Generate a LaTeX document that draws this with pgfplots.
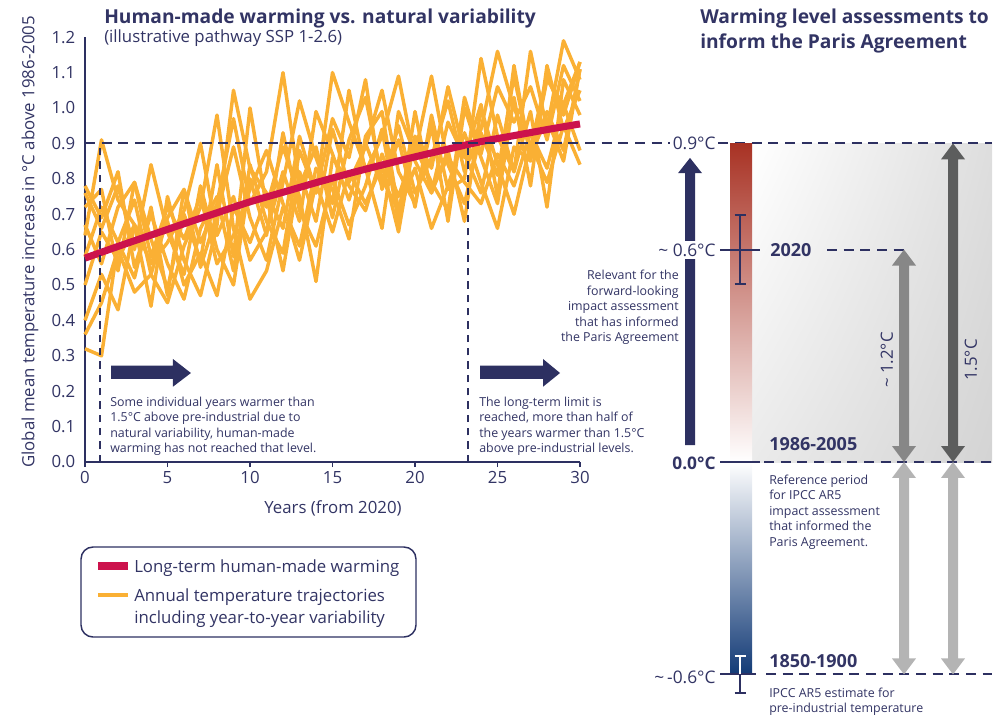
\documentclass[border=0pt]{standalone}
\usepackage{pgfplots}
\usepackage{pgfplotstable}
\pgfplotsset{compat=1.18}
\usetikzlibrary{shadings}
\usepackage{fontspec}
\setmainfont{Open Sans}
\definecolor{navy}{RGB}{45,48,97}
\definecolor{txt}{RGB}{50,52,100}
\definecolor{orng}{RGB}{250,176,52}
\definecolor{crim}{RGB}{204,18,76}
\definecolor{barred}{RGB}{168,50,36}
\definecolor{barblue}{RGB}{18,58,118}
\definecolor{gmid}{RGB}{135,135,135}
\definecolor{gdark}{RGB}{92,93,93}
\definecolor{glight}{RGB}{180,180,180}
\newcommand{\fs}[1]{\fontsize{#1}{#1}\selectfont}

\pgfplotstableread{
t s1 s2 s3 s4 s5 s6 s7 s8 s9 s10
0 0.64 0.32 0.78 0.36 0.72 0.50 0.76 0.40 0.58 0.67
1 0.91 0.30 0.69 0.45 0.77 0.65 0.66 0.53 0.72 0.56
2 0.74 0.62 0.82 0.60 0.54 0.57 0.78 0.43 0.62 0.72
3 0.67 0.52 0.55 0.48 0.79 0.67 0.60 0.67 0.74 0.79
4 0.56 0.72 0.70 0.53 0.63 0.44 0.84 0.56 0.53 0.58
5 0.62 0.47 0.56 0.45 0.49 0.75 0.65 0.68 0.69 0.72
6 0.71 0.77 0.46 0.61 0.70 0.57 0.53 0.50 0.77 0.63
7 0.90 0.62 0.66 0.72 0.57 0.47 0.78 0.59 0.55 0.75
8 0.64 0.73 0.75 0.98 0.84 0.67 0.60 0.47 0.70 0.56
9 0.75 0.97 0.54 0.66 0.58 1.05 0.50 0.72 0.89 0.64
10 0.57 0.73 0.84 0.46 1.00 0.83 0.80 0.62 0.69 0.77
11 0.65 0.82 0.68 0.54 0.72 0.76 0.64 0.75 0.57 0.88
12 0.82 1.10 0.59 0.72 0.89 0.66 0.93 0.54 0.79 0.73
13 0.68 0.78 0.88 0.61 0.75 0.92 0.71 0.82 1.02 0.57
14 0.99 0.89 0.76 0.83 0.51 0.76 0.61 0.68 0.86 0.79
15 0.87 0.69 1.10 0.77 0.86 0.97 0.80 0.94 0.73 0.65
16 0.74 0.91 0.96 0.63 0.79 0.86 0.67 0.78 1.05 0.82
17 0.90 1.03 0.83 0.92 0.89 1.08 0.78 0.71 0.82 0.73
18 0.78 0.80 0.66 0.99 1.05 0.77 0.94 0.87 0.92 0.84
19 0.95 0.71 0.99 0.71 0.82 0.91 0.68 0.75 1.09 0.65
20 0.76 0.92 0.87 0.83 0.73 0.72 0.99 0.89 0.85 0.92
21 0.86 0.83 1.09 0.66 0.95 0.98 0.76 0.79 0.76 0.77
22 1.02 1.06 0.84 0.78 0.68 0.77 0.88 0.71 0.96 0.86
23 0.82 0.87 0.73 0.93 1.00 0.80 0.68 1.03 0.86 0.79
24 0.94 0.76 0.93 0.79 0.86 1.14 1.00 0.87 1.01 0.73
25 1.16 0.98 0.81 0.66 0.73 0.92 0.84 1.06 0.75 0.87
26 1.00 0.82 1.09 0.89 1.03 0.82 0.70 0.96 1.12 0.78
27 0.89 1.16 0.87 0.85 0.78 0.99 0.90 1.06 0.86 0.93
28 1.09 0.94 0.97 1.08 1.12 0.72 0.79 0.91 0.99 0.83
29 0.98 1.19 0.85 1.01 0.94 1.08 0.95 1.12 0.88 1.01
30 1.13 1.08 1.11 0.88 1.05 0.98 0.84 1.02 1.11 1.13
}\traj

\pgfplotstableread{
t v
0 0.576
2 0.609
4 0.641
6 0.673
8 0.704
10 0.735
12 0.762
14 0.789
16 0.815
18 0.839
20 0.862
22 0.884
24 0.905
26 0.922
28 0.939
30 0.955
}\trend

\begin{document}
\begin{tikzpicture}
\path[use as bounding box] (0pt,0pt) rectangle (750pt,-536.25pt);

% ---------------- left panel ----------------
\begin{axis}[
  at={(63.75pt,-346.5pt)}, anchor=south west,
  scale only axis, width=371.25pt, height=318.6pt,
  xmin=0, xmax=30, ymin=0, ymax=1.2,
  axis lines=left, axis line style={draw=navy, line width=1.3pt, -},
  xtick={0,5,10,15,20,25,30},
  ytick={0,0.1,0.2,0.3,0.4,0.5,0.6,0.7,0.8,0.9,1.0,1.1,1.2},
  yticklabel style={/pgf/number format/.cd, fixed, fixed zerofill, precision=1},
  /pgf/number format/assume math mode=true,
  tick label style={font=\fs{12.6}, text=txt},
  tick align=outside, major tick length=3.8pt,
  xtick style={draw=navy, line width=1.2pt},
  ytick style={draw=none},
  clip=false,
]
\pgfplotsinvokeforeach{s1,s2,s3,s4,s5,s6,s7,s8,s9,s10}{
  \addplot[orng, line width=2.6pt, line join=round] table[x=t,y=#1]{\traj};
}
\addplot[crim, line width=5.3pt, smooth] table[x=t,y=v]{\trend};
\addplot[navy, line width=1.5pt, dash pattern=on 5.5pt off 4.5pt] coordinates {(0.9,0)(0.9,0.9)};
\addplot[navy, line width=1.5pt, dash pattern=on 5.5pt off 4.5pt] coordinates {(23.2,0)(23.2,0.9)};
\fill[navy] (axis cs:1.58,0.2345) -- (axis cs:5.33,0.2345) -- (axis cs:5.33,0.2127) -- (axis cs:6.42,0.2514) -- (axis cs:5.33,0.291) -- (axis cs:5.33,0.272) -- (axis cs:1.58,0.272) -- cycle;
\fill[navy] (axis cs:23.94,0.2345) -- (axis cs:27.76,0.2345) -- (axis cs:27.76,0.2127) -- (axis cs:28.79,0.2514) -- (axis cs:27.76,0.291) -- (axis cs:27.76,0.272) -- (axis cs:23.94,0.272) -- cycle;
\end{axis}

% ---------------- right panel ----------------
\begin{axis}[
  at={(480pt,-519.075pt)}, anchor=south west,
  scale only axis, width=270pt, height=424.8pt,
  xmin=640, xmax=1000, ymin=-0.65, ymax=0.95,
  axis lines=none, clip=false,
]
\shade[upper left=white, upper right=black!13, lower left=black!8, lower right=black!17] (axis cs:752,0) rectangle (axis cs:992,0.9);
\addplot[navy, line width=1.5pt, dash pattern=on 7.5pt off 5pt] coordinates {(85,0.9)(992,0.9)};
\addplot[navy, line width=1.5pt, dash pattern=on 7.5pt off 5pt] coordinates {(827,0.6)(904,0.6)};
\addplot[navy, line width=1.5pt, dash pattern=on 7.5pt off 5pt] coordinates {(764,0)(992,0)};
\addplot[navy, line width=1.5pt, dash pattern=on 7.5pt off 5pt] coordinates {(766,-0.6)(992,-0.6)};
% gradient bar
\shade[top color=barred, bottom color=white] (axis cs:730,0) rectangle (axis cs:752,0.9);
\shade[top color=white, bottom color=barblue] (axis cs:730,-0.6) rectangle (axis cs:752,0);
% level ticks
\addplot[navy, line width=1.5pt] coordinates {(720,0.6)(760,0.6)};
\addplot[navy, line width=1.5pt] coordinates {(720,0)(760,0)};
\addplot[navy, line width=1.5pt] coordinates {(720,-0.6)(756,-0.6)};
% error bars
\addplot[navy, line width=1.3pt] coordinates {(740,0.503)(740,0.698)};
\addplot[navy, line width=1.3pt] coordinates {(734.5,0.698)(745.5,0.698)};
\addplot[navy, line width=1.3pt] coordinates {(734.5,0.503)(745.5,0.503)};
\addplot[white, line width=1.3pt] coordinates {(740,-0.548)(740,-0.6)};
\addplot[navy, line width=1.3pt] coordinates {(740,-0.6)(740,-0.653)};
\addplot[white, line width=1.3pt] coordinates {(734.5,-0.548)(745.5,-0.548)};
\addplot[navy, line width=1.3pt] coordinates {(734.5,-0.653)(745.5,-0.653)};
% navy arrow
\fill[navy] (axis cs:685,0.048) -- (axis cs:695,0.048) -- (axis cs:695,0.816) -- (axis cs:702,0.816) -- (axis cs:690,0.859) -- (axis cs:678,0.816) -- (axis cs:685,0.816) -- cycle;
% grey double arrows
\fill[gmid] (axis cs:899,0.045) -- (axis cs:892,0.045) -- (axis cs:904,0) -- (axis cs:916,0.045) -- (axis cs:909,0.045) -- (axis cs:909,0.555) -- (axis cs:916,0.555) -- (axis cs:904,0.6) -- (axis cs:892,0.555) -- (axis cs:899,0.555) -- cycle;
\fill[gdark] (axis cs:948,0.045) -- (axis cs:941,0.045) -- (axis cs:953,0) -- (axis cs:965,0.045) -- (axis cs:958,0.045) -- (axis cs:958,0.855) -- (axis cs:965,0.855) -- (axis cs:953,0.9) -- (axis cs:941,0.855) -- (axis cs:948,0.855) -- cycle;
\fill[glight] (axis cs:899,-0.555) -- (axis cs:892,-0.555) -- (axis cs:904,-0.6) -- (axis cs:916,-0.555) -- (axis cs:909,-0.555) -- (axis cs:909,-0.045) -- (axis cs:916,-0.045) -- (axis cs:904,0) -- (axis cs:892,-0.045) -- (axis cs:899,-0.045) -- cycle;
\fill[glight] (axis cs:948,-0.555) -- (axis cs:941,-0.555) -- (axis cs:953,-0.6) -- (axis cs:965,-0.555) -- (axis cs:958,-0.555) -- (axis cs:958,-0.045) -- (axis cs:965,-0.045) -- (axis cs:953,0) -- (axis cs:941,-0.045) -- (axis cs:948,-0.045) -- cycle;
\end{axis}

% ---------------- text and legend (pixel grid) ----------------
\begin{scope}[x=0.75pt, y=-0.75pt, every node/.style={text=txt, inner sep=0pt}]
% titles
\node[anchor=base west, font=\fs{14.4}\bfseries] at (104,23.5) {Human-made warming vs. natural variability};
\node[anchor=base west, font=\fs{12.6}] at (104,42.5) {(illustrative pathway SSP 1-2.6)};
\node[anchor=base west, font=\fs{14.4}\bfseries] at (700,23.5) {Warming level assessments to};
\node[anchor=base west, font=\fs{14.4}\bfseries] at (700,48.5) {inform the Paris Agreement};
% axis labels
\node[rotate=90, font=\fs{12.6}] at (30,242) {Global mean temperature increase in °C above 1986-2005};
\node[font=\fs{12.6}] at (333,508) {Years (from 2020)};
% annotations
\begin{scope}[every node/.append style={anchor=base west, font=\fs{9.3}}]
\node at (110,406) {Some individual years warmer than};
\node at (110,421.5) {1.5°C above pre-industrial due to};
\node at (110,437) {natural variability, human-made};
\node at (110,452.5) {warming has not reached that level.};
\node at (479,406) {The long-term limit is};
\node at (479,421.5) {reached, more than half of};
\node at (479,437) {the years warmer than 1.5°C};
\node at (479,452.5) {above pre-industrial levels.};
\node at (769,484) {Reference period};
\node at (769,499.5) {for IPCC AR5};
\node at (769,515) {impact assessment};
\node at (769,530.5) {that informed the};
\node at (769,546) {Paris Agreement.};
\node at (769,697) {IPCC AR5 estimate for};
\node at (769,712) {pre-industrial temperature};
\end{scope}
\begin{scope}[every node/.append style={anchor=base east, font=\fs{9.3}}]
\node at (679,279.5) {Relevant for the};
\node at (679,295) {forward-looking};
\node at (679,310.5) {impact assessment};
\node at (679,326) {that has informed};
\node at (679,341.5) {the Paris Agreement};
\end{scope}
% level labels
\node[anchor=base east, fill=white, inner sep=2pt, font=\fs{13}] at (718.5,149.5) {0.9°C};
\node[anchor=base east, fill=white, inner sep=2pt, font=\fs{13}] at (718.5,256.5) {\textasciitilde\ 0.6°C};
\node[anchor=base east, fill=white, inner sep=2pt, font=\fs{13}\bfseries] at (718.5,469.5) {0.0°C};
\node[anchor=base east, fill=white, inner sep=2pt, font=\fs{13}] at (718.5,683) {\textasciitilde\,-0.6°C};
\node[anchor=base west, font=\fs{13.5}\bfseries] at (770,256.5) {2020};
\node[anchor=base west, font=\fs{13.5}\bfseries] at (769,450) {1986-2005};
\node[anchor=base west, font=\fs{13.5}\bfseries] at (769,667) {1850-1900};
\node[rotate=90, font=\fs{12.6}] at (887,360) {\textasciitilde\ 1.2°C};
\node[rotate=90, font=\fs{12.6}] at (971,360) {1.5°C};
% legend
\draw[navy, line width=1.1pt, rounded corners=9pt] (81,547) rectangle (416,637);
\draw[crim, line width=5.3pt] (98,566) -- (128,566);
\draw[orng, line width=2.6pt] (98,595) -- (128,595);
\node[anchor=base west, font=\fs{12.6}] at (134,572) {Long-term human-made warming};
\node[anchor=base west, font=\fs{12.6}] at (134,601) {Annual temperature trajectories};
\node[anchor=base west, font=\fs{12.6}] at (134,623) {including year-to-year variability};
\end{scope}
\end{tikzpicture}
\end{document}
